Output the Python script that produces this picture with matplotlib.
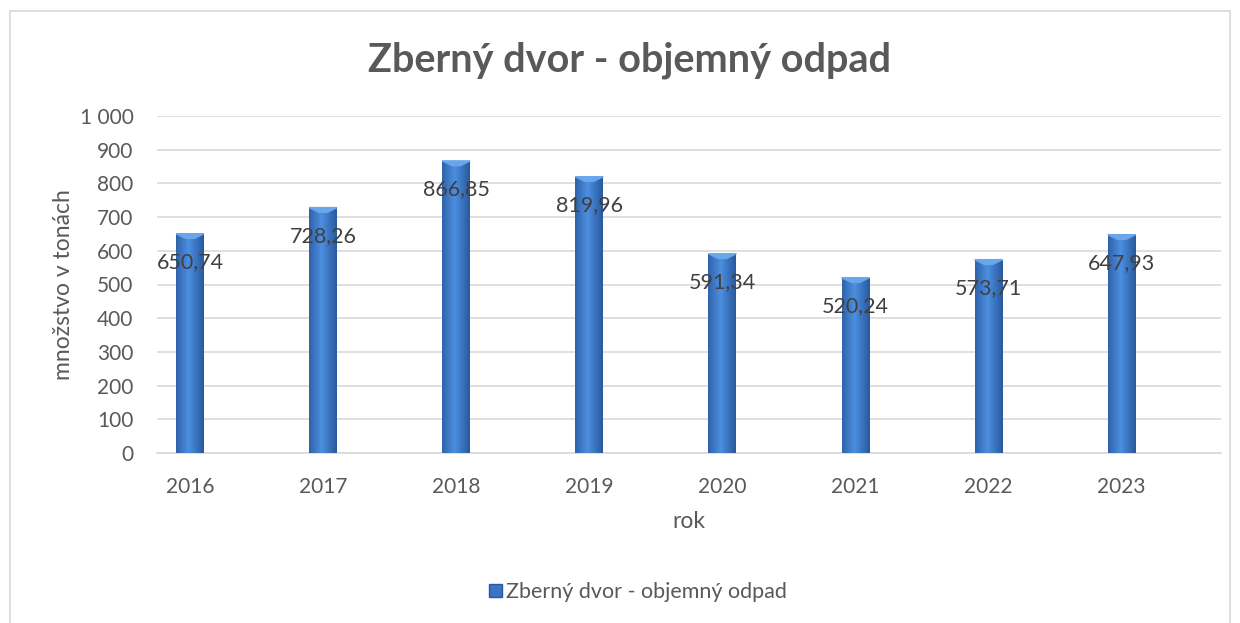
import matplotlib.pyplot as plt
import matplotlib.patches as mpatches
import numpy as np

# Zberný dvor - objemný odpad
roky = ['2016', '2017', '2018', '2019', '2020', '2021', '2022', '2023']
mnozstvo = [650.74, 728.26, 866.85, 819.96, 591.34, 520.24, 573.71, 647.93]
popisky = ['650,74', '728,26', '866,85', '819,96', '591,34', '520,24', '573,71', '647,93']
y_ticky = [0, 100, 200, 300, 400, 500, 600, 700, 800, 900, 1000]
y_popisky = ['0', '100', '200', '300', '400', '500', '600', '700', '800', '900', '1 000']

plt.rcParams['font.family'] = ['Lato', 'DejaVu Sans']

fig = plt.figure(figsize=(12.4, 6.23), dpi=100)
ax = fig.add_axes([157 / 1240, 1 - 453 / 623, 1064 / 1240, 337 / 623])

# ramik okolo grafu
fig.patches.append(mpatches.Rectangle((10 / 1240, -0.05), 1220 / 1240, 1.05 - 11 / 623,
                                      transform=fig.transFigure, fill=False,
                                      edgecolor='#d9d9d9', linewidth=1.2))

x = np.arange(len(roky))
bars = ax.bar(x, mnozstvo, width=0.21, color='#3a74c0', zorder=3)

# gradient na stlpcoch
grad = np.linspace(0, 1, 64)
profil = 1 - np.abs(grad - 0.45) * 1.6
profil = np.clip(profil, 0, 1)
tmave = np.array([0.14, 0.32, 0.58])
svetle = np.array([0.30, 0.56, 0.88])
img = tmave[None, :] + (svetle - tmave)[None, :] * profil[:, None]
img = img[None, :, :]
for b in bars:
    x0, w, h = b.get_x(), b.get_width(), b.get_height()
    im = ax.imshow(img, extent=[x0, x0 + w, 0, h], aspect='auto', zorder=3.5,
                   interpolation='bilinear')
    im.set_clip_path(b)
    # svetle skosenie na vrchu
    ax.fill([x0, x0 + w, x0 + w * 0.65, x0 + w * 0.35], [h, h, h - 14, h - 14],
            color='#6aa6ea', zorder=4)

for xi, v, t in zip(x, mnozstvo, popisky):
    ax.annotate(t, (xi, v), xytext=(0, -20.5), textcoords='offset points',
                ha='center', va='center', fontsize=15.5, color='#404040', zorder=5)

ax.set_xlim(-0.248, 7.746)
ax.set_ylim(0, 1000)
ax.set_yticks(y_ticky)
ax.set_yticklabels(y_popisky)
ax.set_xticks(x)
ax.set_xticklabels(roky)
ax.tick_params(axis='both', length=0, labelsize=15, colors='#595959')
ax.tick_params(axis='x', pad=17)
ax.tick_params(axis='y', pad=17)
ax.grid(axis='y', color='#d9d9d9', linewidth=1.2, zorder=0)
for s in ['top', 'right', 'left']:
    ax.spines[s].set_visible(False)
ax.spines['bottom'].set_color('#d9d9d9')
ax.spines['bottom'].set_linewidth(1.2)

ax.set_ylabel('množstvo v tonách', fontsize=16.5, color='#595959', labelpad=4)
ax.set_xlabel('rok', fontsize=16.5, color='#595959', labelpad=10)

fig.text(630 / 1240, 1 - 60 / 623, 'Zberný dvor - objemný odpad', ha='center', va='center',
         fontsize=28.5, fontweight='bold', color='#595959')

leg = ax.legend([mpatches.Patch(facecolor='#3a74c0', edgecolor='#2a5a9a')],
                ['Zberný dvor - objemný odpad'], loc='center',
                bbox_to_anchor=(638 / 1240, 1 - 592 / 623), bbox_transform=fig.transFigure,
                frameon=False, fontsize=15.5, handlelength=0.6, handleheight=0.6,
                handletextpad=0.2)
for t in leg.get_texts():
    t.set_color('#595959')

fig.savefig('out.png', dpi=100)
